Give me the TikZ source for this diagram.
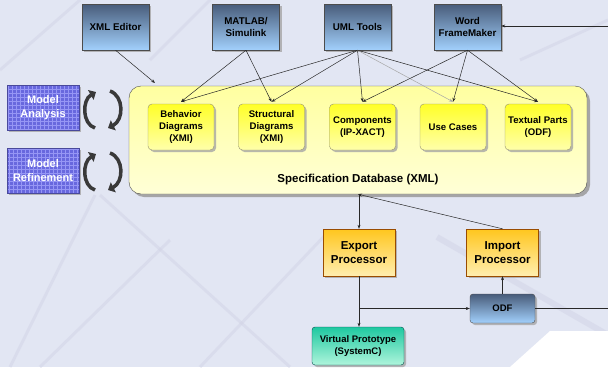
\documentclass[tikz,border=0pt]{standalone}
\usepackage{fontspec}
\setmainfont{Liberation Sans}
\usetikzlibrary{arrows.meta,shadows}
\definecolor{bgc}{RGB}{226,230,243}
\definecolor{bgl}{RGB}{210,212,230}
\definecolor{toolTop}{RGB}{72,92,122}
\definecolor{toolBot}{RGB}{162,208,252}
\definecolor{yelTop}{RGB}{255,255,40}
\definecolor{yelBot}{RGB}{255,255,170}
\definecolor{dbTop}{RGB}{255,255,160}
\definecolor{dbBot}{RGB}{255,255,215}
\definecolor{orTop}{RGB}{255,198,30}
\definecolor{orBot}{RGB}{255,238,175}
\definecolor{grTop}{RGB}{30,200,160}
\definecolor{grBot}{RGB}{175,245,220}
\definecolor{gridFill}{RGB}{104,104,222}
\definecolor{gridLine}{RGB}{150,150,245}
\definecolor{lineC}{RGB}{40,40,40}
\begin{document}
\begin{tikzpicture}[x=1pt,y=-1pt,
  shad/.style={drop shadow={shadow xshift=2pt,shadow yshift=-2pt,fill=gray!70,opacity=0.8}},
  toolbox/.style={shad,draw=gray!60!black,line width=0.4pt,top color=toolTop,bottom color=toolBot,
     minimum width=67pt,minimum height=46pt,align=center,inner sep=1pt,
     font=\fontsize{9.8}{12.5}\selectfont\bfseries},
  yelbox/.style={shad,draw=gray!70!yellow!80!black,line width=0.4pt,rounded corners=4pt,top color=yelTop,bottom color=yelBot,
     minimum width=66pt,minimum height=46pt,align=center,inner sep=1pt,
     font=\fontsize{9.6}{12}\selectfont\bfseries},
  orbox/.style={shad,draw=orange!60!black,line width=0.4pt,top color=orTop,bottom color=orBot,
     minimum width=72pt,minimum height=47pt,align=center,inner sep=1pt,
     font=\fontsize{11.5}{14.5}\selectfont\bfseries},
  gridbox/.style={shad,draw=gridFill!70!black,line width=0.4pt,fill=gridFill,
     minimum width=72pt,minimum height=45pt,align=center,inner sep=1pt,text=white,
     font=\fontsize{11}{13.5}\selectfont\bfseries,
     path picture={\draw[gridLine,line width=0.4pt,step=4pt]
        (path picture bounding box.south west) grid (path picture bounding box.north east);}},
  conn/.style={draw=lineC,line width=0.5pt,-{Stealth[length=4pt,width=3pt]}},
  plain/.style={draw=lineC,line width=0.5pt},
  cyc/.style={draw=gray!45!black,line width=3.5pt,-{Triangle[length=6pt,width=11pt]}},
  bgline/.style={draw=bgl,line width=3pt,opacity=0.5}
]
\useasboundingbox (0,0) rectangle (608,367);
\fill[bgc] (0,0) rectangle (608,367);
% faint background texture
\draw[bgline] (100,195) -- (290,367);
\draw[bgline] (95,195) -- (10,367);
\draw[bgline,line width=6pt] (437,237) -- (608,335);
\draw[bgline] (0,70) -- (80,0);
\draw[bgline] (150,60) -- (210,0);
\draw[bgline] (520,60) -- (608,20);
\draw[bgline] (200,367) -- (330,230);
\draw[bgline] (40,367) -- (170,240);
\fill[white] (550,331) -- (608,331) -- (608,367) -- (510,367) -- cycle;

% Specification database
\node[draw=gray!60!black,line width=0.4pt,rounded corners=12pt,top color=dbTop,bottom color=dbBot,
  drop shadow={shadow xshift=3pt,shadow yshift=-3pt,fill=gray!75,opacity=0.9},
  minimum width=458pt,minimum height=108pt] (db) at (358,140) {};
\node[font=\fontsize{11.5}{14}\selectfont\bfseries] (dbt) at (358,180) {Specification Database (XML)};

% tool boxes
\node[toolbox] (xml) at (115.5,27) {XML Editor};
\node[toolbox] (mat) at (246,27) {MATLAB/\\Simulink};
\node[toolbox] (uml) at (357.5,27) {UML Tools};
\node[toolbox] (word) at (467.5,27) {Word\\FrameMaker};

% inner yellow boxes
\node[yelbox] (beh) at (181,127) {Behavior\\Diagrams\\(XMI)};
\node[yelbox] (str) at (271.5,127) {Structural\\Diagrams\\(XMI)};
\node[yelbox] (comp) at (362.5,127) {Components\\(IP-XACT)};
\node[yelbox] (use) at (453,127) {Use Cases};
\node[yelbox] (text) at (538,127) {Textual Parts\\(ODF)};

% model boxes
\node[gridbox] (ana) at (43,107.5) {Model\\Analysis};
\node[gridbox] (ref) at (43,170.5) {Model\\Refinement};

% cycle icons
\foreach \dy in {0,62}{
  \draw[cyc] (95,128+\dy) .. controls (82,124+\dy) and (82,100+\dy) .. (96,92+\dy);
  \draw[cyc] (110,91+\dy) .. controls (124,96+\dy) and (124,120+\dy) .. (108,128+\dy);
}

% processors
\node[orbox] (exp) at (359,252.5) {Export\\Processor};
\node[orbox] (imp) at (502.5,252.5) {Import\\Processor};
\node[shad,draw=gray!60!black,line width=0.4pt,rounded corners=3pt,top color=toolTop,bottom color=toolBot,
  minimum width=65pt,minimum height=29pt,font=\fontsize{9.5}{12}\selectfont\bfseries] (odf) at (502.5,308.5) {ODF};
\node[shad,draw=teal!60!black,line width=0.4pt,rounded corners=3pt,top color=grTop,bottom color=grBot,
  minimum width=92pt,minimum height=38pt,align=center,inner sep=1pt,
  font=\fontsize{9.5}{12}\selectfont\bfseries] (vp) at (358,346) {Virtual Prototype\\(SystemC)};

% connectors
\coordinate (xmlend) at (155,83);
\draw[conn] (xml.south) -- (xmlend);
\draw[conn] (mat.south) -- ([yshift=2pt]beh.north);
\draw[conn] (mat.south) -- ([yshift=2pt]str.north);
\draw[conn] (uml.south) -- ([yshift=2pt]beh.north);
\draw[conn] (uml.south) -- ([yshift=2pt]str.north);
\draw[conn] (uml.south) -- ([yshift=2pt]comp.north);
\draw[conn,draw=gray!70] (uml.south) -- ([yshift=2pt]use.north);
\draw[conn] (uml.south) -- ([yshift=2pt]text.north);
\draw[conn] (word.south) -- ([yshift=2pt]comp.north);
\draw[conn] (word.south) -- ([yshift=2pt]use.north);
\draw[conn] (word.south) -- ([yshift=2pt]text.north);
\coordinate (wordin) at (608,26);
\draw[conn] (wordin) -- (word.east |- wordin);

\draw[conn] (db.south -| exp.north) -- (exp.north);
\draw[conn] (imp.north) -- (db.south);
\draw[conn] (exp.south) -- (exp.south |- vp.north);
\coordinate (branch) at (exp.south |- odf.west);
\draw[conn] (branch) -- (odf.west);
\draw[conn] (odf.north) -- (imp.south);
\coordinate (odfout) at (608,308.5);
\draw[plain] (odf.east) -- (odfout);
\end{tikzpicture}
\end{document}
